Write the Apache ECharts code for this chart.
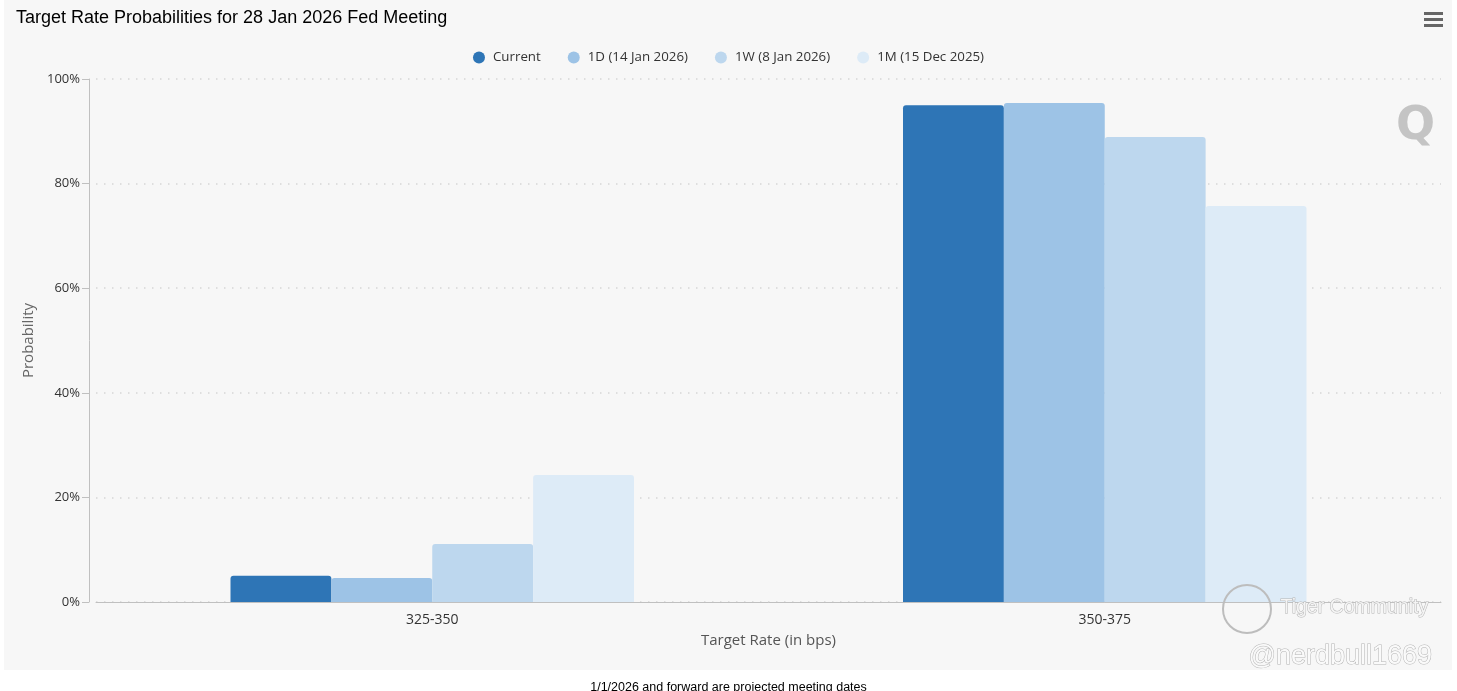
<!DOCTYPE html>
<html>
<head>
<meta charset="utf-8">
<script src="https://cdn.jsdelivr.net/npm/echarts@6/dist/echarts.min.js"></script>
<style>
html,body{margin:0;padding:0;background:#fff;}
#chart{width:1457px;height:691px;}
</style>
</head>
<body>
<div id="chart"></div>
<script>
const categories = ['325-350', '350-375'];
const seriesNames = ['Current', '1D (14 Jan 2026)', '1W (8 Jan 2026)', '1M (15 Dec 2025)'];
const currentVals = [5.0, 95.0];
const oneDayVals = [4.6, 95.4];
const oneWeekVals = [11.1, 88.9];
const oneMonthVals = [24.3, 75.7];
const yTicks = [0, 20, 40, 60, 80, 100];
const colors = ['#2e75b6', '#9dc3e6', '#bdd7ee', '#ddebf7'];

const font = '"Open Sans", "DejaVu Sans", sans-serif';
const allVals = [currentVals, oneDayVals, oneWeekVals, oneMonthVals];

const chart = echarts.init(document.getElementById('chart'), null, {renderer: 'canvas'});
chart.setOption({
  backgroundColor: '#ffffff',
  animation: false,
  color: colors,
  title: [{
    text: 'Target Rate Probabilities for 28 Jan 2026 Fed Meeting',
    left: 11, top: 4,
    textStyle: {fontFamily: '"Liberation Sans", Arial, sans-serif', fontSize: 18, fontWeight: 'normal', color: '#000'}
  }, {
    text: '1/1/2026 and forward are projected meeting dates',
    left: 'center', top: 676,
    textStyle: {fontFamily: '"Liberation Sans", Arial, sans-serif', fontSize: 12.5, fontWeight: 'normal', color: '#000'}
  }],
  legend: {
    top: 46, left: 'center',
    icon: 'circle', itemWidth: 12, itemHeight: 12, itemGap: 27,
    textStyle: {fontFamily: font, fontSize: 13.3, color: '#333', padding: [0, 0, 0, 3]},
    data: seriesNames
  },
  grid: {left: 96, right: 16, top: 79, bottom: 89, containLabel: false},
  xAxis: {
    type: 'category', data: categories,
    name: 'Target Rate (in bps)', nameLocation: 'middle', nameGap: 31,
    nameTextStyle: {fontFamily: font, fontSize: 15, color: '#555'},
    axisLine: {lineStyle: {color: '#c0c0c0'}},
    axisTick: {alignWithLabel: true, length: 10, lineStyle: {color: '#c0c0c0'}},
    axisLabel: {fontFamily: font, fontSize: 14, color: '#333', margin: 11}
  },
  yAxis: {
    type: 'value', min: 0, max: 100, interval: 20, offset: 7,
    name: 'Probability', nameLocation: 'middle', nameGap: 52,
    nameTextStyle: {fontFamily: font, fontSize: 15, color: '#666'},
    axisLine: {show: true, lineStyle: {color: '#c0c0c0'}},
    axisTick: {show: true, length: 7, lineStyle: {color: '#c0c0c0'}},
    axisLabel: {fontFamily: font, fontSize: 13, color: '#333', margin: 9,
      formatter: function (v) { return yTicks.indexOf(v) >= 0 ? v + '%' : ''; }},
    splitLine: {show: true, lineStyle: {color: '#d6d6d6', width: 1.5, type: [1.5, 6.5]}}
  },
  graphic: [
    {type: 'rect', shape: {x: 4, y: 0, width: 1448, height: 670}, style: {fill: '#f7f7f7'}, z: -100, silent: true},
    {type: 'group', left: 1424, top: 12, children: [
      {type: 'rect', shape: {x: 0, y: 0, width: 19, height: 3}, style: {fill: '#666'}},
      {type: 'rect', shape: {x: 0, y: 6, width: 19, height: 3}, style: {fill: '#666'}},
      {type: 'rect', shape: {x: 0, y: 12, width: 19, height: 3}, style: {fill: '#666'}}
    ]},
    {type: 'text', left: 1396, top: 104, style: {text: 'Q', font: 'bold 46px "DejaVu Sans", sans-serif', fill: '#c4c4c4'}, z: 1},
    {type: 'circle', shape: {cx: 1247, cy: 609, r: 24}, style: {fill: 'none', stroke: '#bdbdbd', lineWidth: 2}, z: 10},
    {type: 'text', left: 1280, top: 597, style: {text: 'Tiger Community', font: '19.5px "Liberation Sans", Arial, sans-serif', fill: '#f4f4f4', stroke: '#b5b5b5', lineWidth: 1}, z: 10},
    {type: 'text', left: 1248, top: 643, style: {text: '@nerdbull1669', font: '27px "Liberation Sans", Arial, sans-serif', fill: '#fafafa', stroke: '#b5b5b5', lineWidth: 1}, z: 10}
  ],
  series: seriesNames.map(function (name, i) {
    return {
      name: name, type: 'bar', data: allVals[i],
      barGap: '0%', barCategoryGap: '40%',
      itemStyle: {color: colors[i], borderRadius: [3, 3, 0, 0]}
    };
  })
});
</script>
</body>
</html>
